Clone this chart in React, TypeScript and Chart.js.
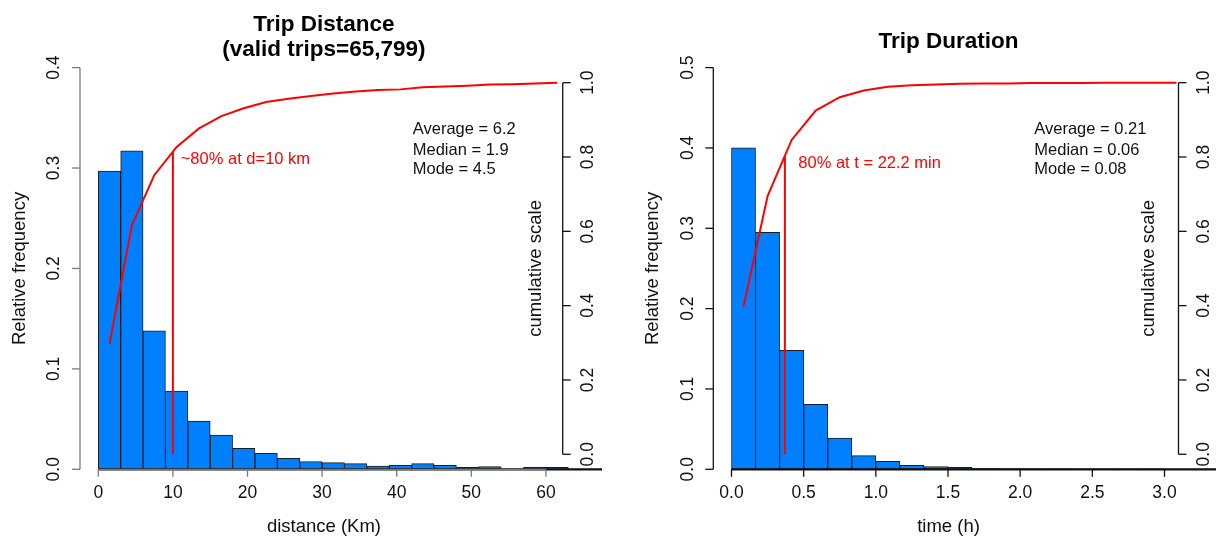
import { useEffect, useRef } from 'react';
import { Chart, registerables } from 'chart.js';

Chart.register(...registerables);

// ---------------- Trip Distance data ----------------
const DIST_BIN_WIDTH_KM = 3;
const DIST_BIN_STARTS_KM = [0, 3, 6, 9, 12, 15, 18, 21, 24, 27, 30, 33, 36, 39, 42, 45, 48, 51, 54, 57, 60, 63, 66];
const DIST_REL_FREQ = [0.297, 0.317, 0.138, 0.078, 0.048, 0.034, 0.021, 0.016, 0.011, 0.0076, 0.0066, 0.0056, 0.0033, 0.004, 0.0056, 0.004, 0.002, 0.0026, 0.0005, 0.002, 0.002, 0, 0];
const DIST_CUMULATIVE = [0.296, 0.616, 0.751, 0.827, 0.877, 0.91, 0.931, 0.948, 0.957, 0.964, 0.971, 0.976, 0.98, 0.982, 0.988, 0.99, 0.992, 0.995, 0.996, 0.998, 1.0];
const DIST_X_TICKS = [0, 10, 20, 30, 40, 50, 60];
const DIST_Y_TICKS = [0, 0.1, 0.2, 0.3, 0.4];
const DIST_MARK_KM = 10;
const DIST_MARK_CUM = 0.815;
const DIST_STATS = ['Average = 6.2', 'Median = 1.9', 'Mode = 4.5'];
const DIST_NOTE = '~80% at d=10 km';
const DIST_TITLE = ['Trip Distance', '(valid trips=65,799)'];

// ---------------- Trip Duration data ----------------
const DUR_BIN_WIDTH_MIN = 10;
const DUR_BIN_STARTS_MIN = [0, 10, 20, 30, 40, 50, 60, 70, 80, 90, 100, 110, 120, 130, 140, 150, 160, 170, 180, 190, 200];
const DUR_REL_FREQ = [0.4, 0.295, 0.148, 0.081, 0.039, 0.017, 0.01, 0.005, 0.0033, 0.0025, 0.0012, 0.0008, 0.0006, 0.0005, 0.0004, 0.0003, 0.0003, 0.0002, 0.0002, 0.0002, 0.0001];
const DUR_CUMULATIVE = [0.397, 0.695, 0.846, 0.925, 0.961, 0.979, 0.989, 0.993, 0.995, 0.997, 0.998, 0.998, 0.999, 0.999, 0.999, 1.0, 1.0, 1.0, 1.0];
const DUR_X_TICKS = [0, 0.5, 1, 1.5, 2, 2.5, 3];
const DUR_Y_TICKS = [0, 0.1, 0.2, 0.3, 0.4, 0.5];
const DUR_MARK_H = 0.37;
const DUR_MARK_CUM = 0.803;
const DUR_STATS = ['Average = 0.21', 'Median = 0.06', 'Mode = 0.08'];
const DUR_NOTE = '80% at t = 22.2 min';
const DUR_TITLE = ['Trip Duration'];

const CUM_TICKS = [0, 0.2, 0.4, 0.6, 0.8, 1.0];

// ---------------- styling ----------------
const FONT = '"Liberation Sans", Arial, Helvetica, sans-serif';
const BAR_FILL = '#0080FF';
const BAR_BORDER = '#1c1c1c';
const RED = '#FF0000';
const TEXT = '#111111';

const DIST_SPEC = {
  binStarts: DIST_BIN_STARTS_KM,
  binWidth: DIST_BIN_WIDTH_KM,
  freq: DIST_REL_FREQ,
  cum: DIST_CUMULATIVE,
  xTicks: DIST_X_TICKS,
  xDecimals: 0,
  yTicks: DIST_Y_TICKS,
  markX: DIST_MARK_KM,
  markCum: DIST_MARK_CUM,
  stats: DIST_STATS,
  note: DIST_NOTE,
  title: DIST_TITLE,
  xTitle: 'distance (Km)',
  // layout
  padding: { left: 80, right: 45.3, top: 67.6, bottom: 68.7 },
  xMin: -2.453,
  xMax: 62.25,
  yMax: 0.4,
  baseClipRight: 39.3,
  axisColor: '#7a7a7a',
  titleY: [25, 50],
  noteAt: { x: 11.05, cum: 0.794 },
  statsAt: { x: 42.15, cum: 0.875 },
  cumTitleOffset: 26.5,
};

const DUR_SPEC = {
  binStarts: DUR_BIN_STARTS_MIN.map((m) => m / 60),
  binWidth: DUR_BIN_WIDTH_MIN / 60,
  freq: DUR_REL_FREQ,
  cum: DUR_CUMULATIVE,
  xTicks: DUR_X_TICKS,
  xDecimals: 1,
  yTicks: DUR_Y_TICKS,
  markX: DUR_MARK_H,
  markCum: DUR_MARK_CUM,
  stats: DUR_STATS,
  note: DUR_NOTE,
  title: DUR_TITLE,
  xTitle: 'time (h)',
  padding: { left: 105.3, right: 37.5, top: 67.6, bottom: 68.7 },
  xMin: -0.126,
  xMax: 3.097,
  yMax: 0.5,
  baseClipRight: 40,
  axisColor: '#111111',
  titleY: [41.5],
  noteAt: { x: 0.463, cum: 0.782 },
  statsAt: { x: 2.098, cum: 0.875 },
  cumTitleOffset: 30,
};

function seg(ctx: CanvasRenderingContext2D, x1: number, y1: number, x2: number, y2: number) {
  ctx.beginPath();
  ctx.moveTo(x1, y1);
  ctx.lineTo(x2, y2);
  ctx.stroke();
}

function txt(
  ctx: CanvasRenderingContext2D,
  s: string,
  x: number,
  y: number,
  font: string,
  color: string,
  align: CanvasTextAlign = 'center',
  rot = 0
) {
  ctx.save();
  ctx.translate(x, y);
  if (rot) ctx.rotate(rot);
  ctx.font = font;
  ctx.fillStyle = color;
  ctx.textAlign = align;
  ctx.textBaseline = 'middle';
  ctx.fillText(s, 0, 0);
  ctx.restore();
}

function makePlugin(s: any) {
  return {
    id: 'rStyle',
    afterDatasetsDraw(chart: any) {
      const ctx: CanvasRenderingContext2D = chart.ctx;
      const a = chart.chartArea;
      const sx = chart.scales.x;
      const sy = chart.scales.y;
      const sc = chart.scales.y2;
      const tickFont = `17.5px ${FONT}`;
      const titleFont = `18.5px ${FONT}`;
      const up = -Math.PI / 2;
      ctx.save();
      ctx.lineWidth = 1.3;
      ctx.lineCap = 'butt';

      // left (relative frequency) axis
      ctx.strokeStyle = s.axisColor;
      seg(ctx, a.left, sy.getPixelForValue(s.yTicks[0]), a.left, sy.getPixelForValue(s.yTicks[s.yTicks.length - 1]));
      s.yTicks.forEach((v: number) => {
        const p = sy.getPixelForValue(v);
        seg(ctx, a.left, p, a.left - 8, p);
        txt(ctx, v.toFixed(1), a.left - 25.5, p, tickFont, TEXT, 'center', up);
      });

      // bottom axis
      const bx0 = sx.getPixelForValue(s.xTicks[0]);
      const bx1 = sx.getPixelForValue(s.xTicks[s.xTicks.length - 1]);
      seg(ctx, bx0, a.bottom, bx1, a.bottom);
      s.xTicks.forEach((v: number) => {
        const p = sx.getPixelForValue(v);
        seg(ctx, p, a.bottom, p, a.bottom + 7.5);
        txt(ctx, v.toFixed(s.xDecimals), p, a.bottom + 24, tickFont, TEXT, 'center');
      });

      // cumulative axis
      ctx.strokeStyle = '#111111';
      seg(ctx, a.right, sc.getPixelForValue(CUM_TICKS[0]), a.right, sc.getPixelForValue(CUM_TICKS[CUM_TICKS.length - 1]));
      CUM_TICKS.forEach((v) => {
        const p = sc.getPixelForValue(v);
        seg(ctx, a.right, p, a.right + 8, p);
        txt(ctx, v.toFixed(1), a.right + 25.5, p, tickFont, TEXT, 'center', up);
      });

      const cx = (a.left + a.right) / 2 + 2.6;
      const cy = (a.top + a.bottom) / 2;
      // axis titles
      txt(ctx, 'Relative frequency', a.left - 60.5, cy, titleFont, TEXT, 'center', up);
      txt(ctx, 'cumulative scale', a.right - s.cumTitleOffset, cy, titleFont, TEXT, 'center', up);
      txt(ctx, s.xTitle, cx, a.bottom + 58, titleFont, TEXT, 'center');

      // main title
      s.title.forEach((line: string, i: number) => {
        txt(ctx, line, cx, s.titleY[i], `bold 22.5px ${FONT}`, '#000000', 'center');
      });

      // annotation
      txt(ctx, s.note, sx.getPixelForValue(s.noteAt.x), sc.getPixelForValue(s.noteAt.cum), `16.5px ${FONT}`, RED, 'left');

      // statistics
      const sx0 = sx.getPixelForValue(s.statsAt.x);
      const sy0 = sc.getPixelForValue(s.statsAt.cum);
      const rowOffsets = [0, 21, 40.5];
      s.stats.forEach((line: string, i: number) => {
        txt(ctx, line, sx0, sy0 + rowOffsets[i], `16.5px ${FONT}`, TEXT, 'left');
      });
      ctx.restore();
    },
  };
}

function buildChart(canvas: HTMLCanvasElement, s: any) {
  const half = s.binWidth / 2;
  const bars = s.binStarts.map((b: number, i: number) => ({ x: b + half, y: s.freq[i] }));
  const cum = s.cum.map((c: number, i: number) => ({ x: s.binStarts[i] + half, y: c }));
  const lastEdge = s.binStarts[s.binStarts.length - 1] + s.binWidth;
  const baseline = [
    { x: s.binStarts[0], y: 0 },
    { x: lastEdge, y: 0 },
  ];
  const mark = [
    { x: s.markX, y: 0 },
    { x: s.markX, y: s.markCum },
  ];
  const fixedTicks = (list: number[]) => (scale: any) => {
    scale.ticks = list.map((v) => ({ value: v }));
  };

  return new Chart(canvas, {
    type: 'bar',
    data: {
      datasets: [
        {
          type: 'bar',
          data: bars,
          xAxisID: 'x',
          yAxisID: 'y',
          backgroundColor: BAR_FILL,
          borderColor: BAR_BORDER,
          borderWidth: 1,
          borderSkipped: false,
          barPercentage: 1,
          categoryPercentage: 1,
          clip: false,
          order: 3,
        } as any,
        {
          type: 'line',
          data: baseline,
          xAxisID: 'x',
          yAxisID: 'y',
          borderColor: '#111111',
          borderWidth: 2.2,
          pointRadius: 0,
          clip: { left: 20, top: 0, right: s.baseClipRight, bottom: 5 },
          order: 2,
        } as any,
        {
          type: 'line',
          data: cum,
          xAxisID: 'x',
          yAxisID: 'y2',
          borderColor: RED,
          borderWidth: 2,
          pointRadius: 0,
          tension: 0,
          clip: false,
          order: 1,
        } as any,
        {
          type: 'line',
          data: mark,
          xAxisID: 'x',
          yAxisID: 'y2',
          borderColor: RED,
          borderWidth: 2,
          pointRadius: 0,
          clip: false,
          order: 1,
        } as any,
      ],
    },
    options: {
      responsive: false,
      animation: false,
      devicePixelRatio: 1,
      events: [],
      layout: { padding: s.padding },
      plugins: {
        legend: { display: false },
        title: { display: false },
        tooltip: { enabled: false },
      },
      scales: {
        x: {
          type: 'linear',
          display: false,
          offset: false,
          min: s.xMin,
          max: s.xMax,
          grid: { offset: false },
          afterBuildTicks: fixedTicks(s.xTicks),
        },
        y: {
          type: 'linear',
          display: false,
          min: 0,
          max: s.yMax,
          afterBuildTicks: fixedTicks(s.yTicks),
        },
        y2: {
          type: 'linear',
          display: false,
          min: -0.0404,
          max: 1.0406,
          afterBuildTicks: fixedTicks(CUM_TICKS),
        },
      },
    } as any,
    plugins: [makePlugin(s)],
  });
}

export default function App() {
  const leftRef = useRef<HTMLCanvasElement>(null);
  const rightRef = useRef<HTMLCanvasElement>(null);

  useEffect(() => {
    const c1 = buildChart(leftRef.current as HTMLCanvasElement, DIST_SPEC);
    const c2 = buildChart(rightRef.current as HTMLCanvasElement, DUR_SPEC);
    return () => {
      c1.destroy();
      c2.destroy();
    };
  }, []);

  return (
    <div style={{ position: 'absolute', left: 0, top: 0, width: 1216, height: 538, background: '#ffffff' }}>
      <canvas
        ref={leftRef}
        width={608}
        height={538}
        style={{ position: 'absolute', left: 0, top: 0, width: 608, height: 538 }}
      />
      <canvas
        ref={rightRef}
        width={608}
        height={538}
        style={{ position: 'absolute', left: 608, top: 0, width: 608, height: 538 }}
      />
    </div>
  );
}
